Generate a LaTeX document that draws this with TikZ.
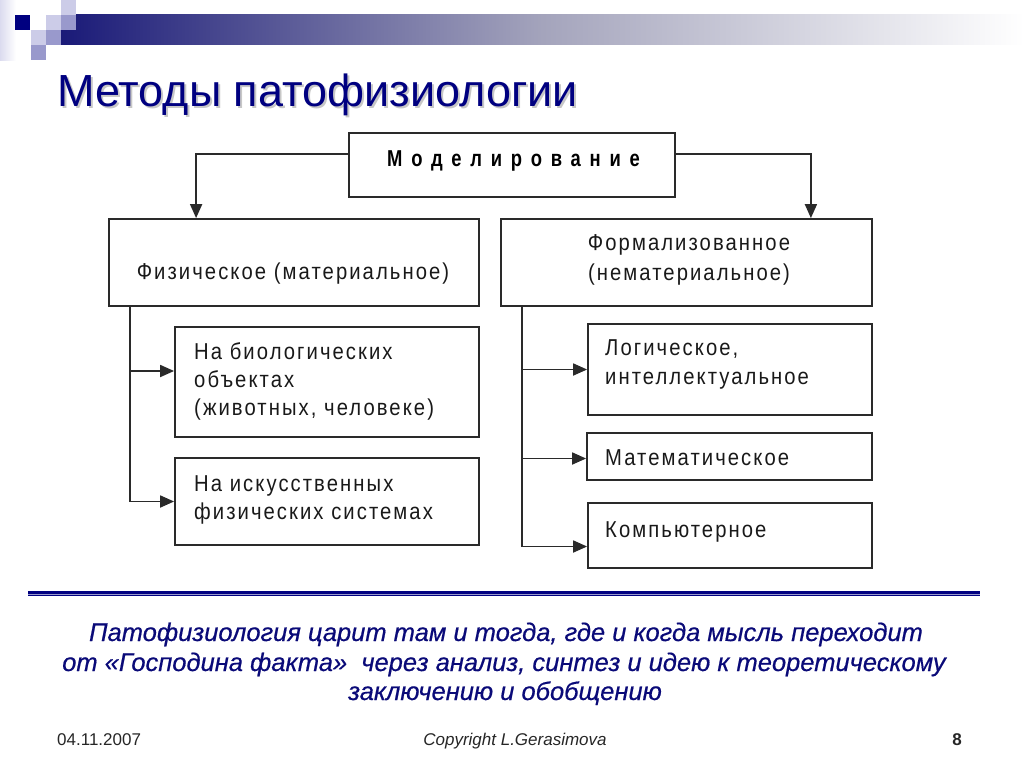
\documentclass[tikz,border=0pt]{standalone}
\usepackage{fontspec}
\setmainfont{Liberation Sans}
\newfontfamily\dfont[FakeStretch=0.88,LetterSpace=9]{Liberation Sans}
\newfontfamily\mfont[FakeStretch=0.8,LetterSpace=38]{Liberation Sans}
\newfontfamily\qfont[FakeBold=0.5]{Liberation Sans}
\usetikzlibrary{arrows.meta}
\definecolor{navy}{HTML}{000080}
\definecolor{bardark}{HTML}{1A1A78}
\definecolor{barmid}{HTML}{A4A4BC}
\definecolor{sqlight}{HTML}{CCCCE8}
\definecolor{sqmid}{HTML}{9999CC}
\definecolor{boxline}{HTML}{2A2A2A}
\definecolor{quote}{HTML}{0A0A78}
\tikzset{
  box/.style={draw=boxline, line width=1.8pt, rectangle, inner sep=0pt},
  conn/.style={draw=boxline, line width=1.8pt},
  arr/.style={conn, -{Triangle[length=14pt,width=12pt]}},
  dtext/.style={inner sep=0pt, text=black!90, font=\dfont\fontsize{23}{27}\selectfont},
  qtext/.style={inner sep=0pt, anchor=base, text=quote, font=\qfont\itshape\fontsize{25.5}{30}\selectfont},
  ftext/.style={inner sep=0pt, text=black!85, font=\fontsize{17}{20}\selectfont},
}
\begin{document}
\begin{tikzpicture}[x=1pt,y=-1pt]
\useasboundingbox (0,0) rectangle (1024,768);
% header decoration
\shade[left color=sqlight!70, right color=white] (0,0) rectangle (16,60);
\shade[left color=bardark, right color=white, middle color=barmid] (61,15) rectangle (1024,45);
\fill[navy] (15,15) rectangle (30,30);
\fill[sqlight] (61,0) rectangle (76,15);
\fill[sqlight] (46,15) rectangle (61,30);
\fill[sqmid] (61,15) rectangle (76,30);
\fill[sqlight] (31,30) rectangle (46,45);
\fill[sqmid] (46,30) rectangle (61,45);
\fill[sqmid] (31,45) rectangle (46,60);
% title
\node[anchor=base west, inner sep=0pt, text=black!22, font=\fontsize{45}{50}\selectfont] (titleshadow) at (59,108) {Методы патофизиологии};
\node[anchor=base west, inner sep=0pt, text=navy, font=\fontsize{45}{50}\selectfont] (title) at (57,106) {Методы патофизиологии};
% boxes
\node[box, minimum width=326pt, minimum height=64pt] (mod) at (512,165) {};
\node[box, minimum width=370pt, minimum height=87pt] (phys) at (294,262.5) {};
\node[box, minimum width=371pt, minimum height=87pt] (form) at (686.5,262.5) {};
\node[box, minimum width=304pt, minimum height=110pt] (bio) at (327,382) {};
\node[box, minimum width=304pt, minimum height=87pt] (art) at (327,501.5) {};
\node[box, minimum width=284pt, minimum height=91pt] (logi) at (730,369.5) {};
\node[box, minimum width=285pt, minimum height=47pt] (math) at (729.5,456.5) {};
\node[box, minimum width=284pt, minimum height=65pt] (comp) at (730,535.5) {};
% box texts
\node[inner sep=0pt, anchor=base, font=\mfont\bfseries\fontsize{23}{26}\selectfont] (modt) at (513.5,166) {Моделирование};
\node[dtext, anchor=base] (physt) at (293,279) {Физическое (материальное)};
\node[dtext, anchor=base] (formt1) at (689,250) {Формализованное};
\node[dtext, anchor=base] (formt2) at (689,280) {(нематериальное)};
\node[dtext, anchor=base west] (biot1) at (194,359) {На биологических};
\node[dtext, anchor=base west] (biot2) at (194,387) {объектах};
\node[dtext, anchor=base west] (biot3) at (194,415) {(животных, человеке)};
\node[dtext, anchor=base west] (artt1) at (194,491) {На искусственных};
\node[dtext, anchor=base west] (artt2) at (194,519) {физических системах};
\node[dtext, anchor=base west] (logit1) at (605,355) {Логическое,};
\node[dtext, anchor=base west] (logit2) at (605,384) {интеллектуальное};
\node[dtext, anchor=base west] (matht) at (605,465) {Математическое};
\node[dtext, anchor=base west] (compt) at (605,537) {Компьютерное};
% connectors
\draw[arr] ([yshift=11pt]mod.west) -| ([xshift=88pt]phys.north west);
\draw[arr] ([yshift=11pt]mod.east) -| ([xshift=-62pt]form.north east);
\coordinate (tl) at ([xshift=22pt]phys.south west);
\coordinate (tr) at ([xshift=22pt]form.south west);
\draw[arr] (tl) |- ([yshift=11pt]bio.west);
\draw[arr] (tl) |- (art.west);
\draw[arr] (tr) |- (logi.west);
\draw[arr] (tr) |- ([yshift=-2pt]math.west);
\draw[arr] (tr) |- ([yshift=-11pt]comp.west);
% separator
\coordinate (sepL) at (28,592);
\coordinate (sepR) at (980,592);
\draw[navy, line width=3pt] (sepL) -- (sepR);
\draw[sqmid, line width=1pt] ([yshift=-2pt]sepL) -- ([yshift=-2pt]sepR);
\draw[navy, line width=1.2pt] ([yshift=-3.3pt]sepL) -- ([yshift=-3.3pt]sepR);
% quote
\node[qtext] (q1) at (506,641) {Патофизиология царит там и тогда, где и когда мысль переходит};
\node[qtext] (q2) at (504,671) {от «Господина факта»\ \ через анализ, синтез и идею к теоретическому};
\node[qtext] (q3) at (505,700) {заключению и обобщению};
% footer
\node[ftext, anchor=base west] (date) at (57,745) {04.11.2007};
\node[ftext, anchor=base, font=\itshape\fontsize{17}{20}\selectfont] (copy) at (515,745) {Copyright L.Gerasimova};
\node[ftext, anchor=base east, font=\bfseries\fontsize{17}{20}\selectfont] (page) at (962,745) {8};
\end{tikzpicture}
\end{document}
